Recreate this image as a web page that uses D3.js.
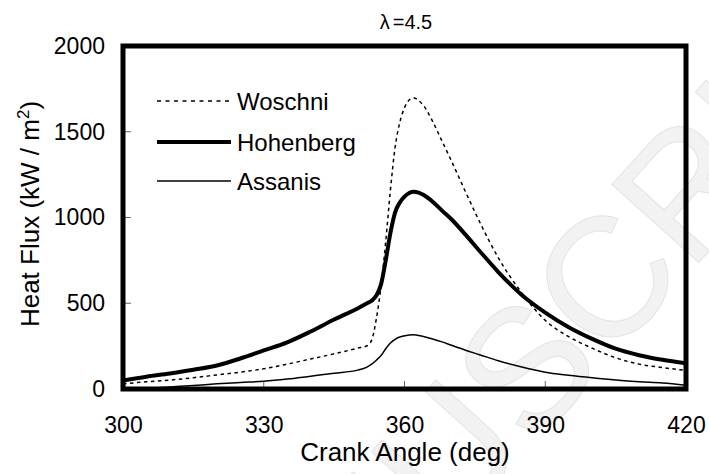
<!DOCTYPE html>
<html><head><meta charset="utf-8">
<script src="https://cdn.jsdelivr.net/npm/d3@7"></script>
<style>body{margin:0;background:#fff} svg{display:block} text{font-family:"Liberation Sans",Arial,sans-serif}</style>
</head><body><svg id="c" width="709" height="474"></svg>
<script>
const angles   = [300,305,310,315,320,325,330,335,340,345,350,352,353,354,355,356,357,358,359,360,361,362,363,364,366,368,370,373,376,380,385,390,395,400,405,410,415,420];
const woschni  = [30,42,52,66,82,98,118,145,175,205,238,252,285,410,600,860,1160,1410,1555,1640,1685,1697,1682,1655,1560,1445,1330,1150,975,765,560,400,305,238,182,145,125,108];
const hohenberg= [50,72,90,112,137,178,225,272,335,405,470,500,515,545,610,750,910,1030,1088,1122,1143,1150,1145,1132,1092,1040,990,900,805,682,548,445,360,292,235,197,170,150];
const assanis  = [0,3,12,20,30,38,45,58,75,92,110,128,145,168,195,235,268,290,303,310,315,316,312,306,292,275,255,226,200,165,128,98,80,65,52,42,35,22];
const xTicks = [300,330,360,390,420];
const yTicks = [0,500,1000,1500,2000];
const seriesNames = ["Woschni","Hohenberg","Assanis"];
const titleText = "=4.5";

const svg = d3.select("#c");
const L=123, R=686, T=46, B=389;
const x = d3.scaleLinear().domain([300,420]).range([L,R]);
const y = d3.scaleLinear().domain([0,2000]).range([B,T]);

// watermark
svg.append("text").attr("transform","translate(445,452) rotate(-48)")
  .attr("x",-440).attr("y",62).attr("font-size",170)
  .attr("fill","#f2f2f2").attr("stroke","#e4e4e4").attr("stroke-width",1)
  .text("MANUSCRIPT");

const fmt = d3.format("d");
const yAxis = d3.axisLeft(y).tickValues(yTicks).tickFormat(fmt).tickSize(0).tickPadding(18);
const gy = svg.append("g").attr("transform",`translate(${L},0)`).call(yAxis);
gy.select(".domain").remove();
gy.selectAll("text").attr("font-size",23).attr("fill","#000").attr("font-family","Liberation Sans, Arial, sans-serif");
const xAxis = d3.axisBottom(x).tickValues(xTicks).tickFormat(fmt).tickSize(0).tickPadding(28);
const gx = svg.append("g").attr("transform",`translate(0,${B})`).call(xAxis);
gx.select(".domain").remove();
gx.selectAll("text").attr("font-size",23).attr("fill","#000").attr("font-family","Liberation Sans, Arial, sans-serif");

svg.append("g").selectAll("line").data(yTicks.slice(1,-1)).join("line")
  .attr("x1",L).attr("x2",L+8).attr("y1",d=>y(d)).attr("y2",d=>y(d)).attr("stroke","#666").attr("stroke-width",1);
svg.append("g").selectAll("line").data(xTicks.slice(1,-1)).join("line")
  .attr("y1",B).attr("y2",B-8).attr("x1",d=>x(d)).attr("x2",d=>x(d)).attr("stroke","#666").attr("stroke-width",1);

svg.append("clipPath").attr("id","clip").append("rect").attr("x",L).attr("y",T).attr("width",R-L).attr("height",B-T);
const line = d3.line().x((d,i)=>x(angles[i])).y(d=>y(d)).curve(d3.curveMonotoneX);
const styles = [
  {data:woschni, w:1.5, dash:"3.5,3.5"},
  {data:hohenberg, w:4, dash:null},
  {data:assanis, w:1.5, dash:null}
];
const g = svg.append("g").attr("clip-path","url(#clip)");
styles.forEach(s=>{
  g.append("path").attr("d",line(s.data)).attr("fill","none").attr("stroke","#000")
   .attr("stroke-width",s.w).attr("stroke-dasharray",s.dash).attr("stroke-linejoin","round");
});

// frame
svg.append("rect").attr("x",L).attr("y",T).attr("width",R-L).attr("height",B-T)
  .attr("fill","none").attr("stroke","#000").attr("stroke-width",5);

// legend
const ly=[101,142,181];
styles.forEach((s,i)=>{
  svg.append("line").attr("x1",157).attr("x2",231).attr("y1",ly[i]).attr("y2",ly[i])
    .attr("stroke","#000").attr("stroke-width",s.w).attr("stroke-dasharray",s.dash==null?null:"4,4.5");
  svg.append("text").attr("x",237).attr("y",ly[i]).attr("dy","0.36em").attr("font-size",24).text(seriesNames[i]);
});

// title
const t = svg.append("text").attr("x",406).attr("y",29).attr("text-anchor","middle").attr("font-size",20);
t.append("tspan").text("λ");
t.append("tspan").attr("dx",3).text(titleText);

// axis titles
svg.append("text").attr("x",405).attr("y",461).attr("text-anchor","middle").attr("font-size",26).text("Crank Angle (deg)");
const yt = svg.append("text").attr("transform","translate(39,214) rotate(-90)").attr("text-anchor","middle").attr("font-size",26);
yt.append("tspan").text("Heat Flux (kW / m");
yt.append("tspan").attr("dy",-10).attr("font-size",17).text("2");
yt.append("tspan").attr("dy",10).text(")");
</script></body></html>
